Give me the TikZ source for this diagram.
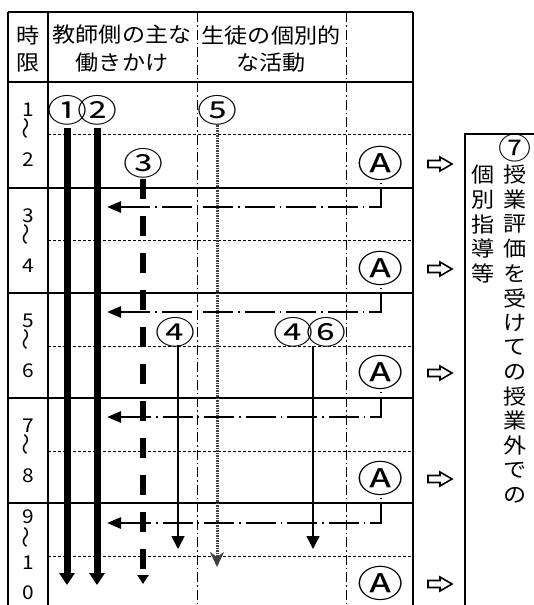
\documentclass[tikz,border=0pt]{standalone}
\usepackage{fontspec}
\newfontfamily\jp[FakeStretch=1.1]{Noto Sans CJK JP}
\newfontfamily\jpwide[FakeStretch=1.25]{Noto Sans CJK JP}
\usetikzlibrary{arrows.meta}
\begin{document}
\begin{tikzpicture}[x=1pt,y=-1pt,
  jptext/.style={font=\jp\fontsize{21}{21}\selectfont, inner sep=0pt},
  circnum/.style={font=\jpwide\fontsize{32}{32}\selectfont, inner sep=0pt},
  circseven/.style={font=\jp\fontsize{30}{30}\selectfont, inner sep=0pt},
  circA/.style={font=\jpwide\fontsize{37}{37}\selectfont, inner sep=0pt},
  digit/.style={font=\jp\fontsize{19}{19}\selectfont, inner sep=0pt},
  wave/.style={font=\jp\fontsize{20}{20}\selectfont, rotate=90, inner sep=0pt},
  grid/.style={line width=1.2pt},
  midline/.style={line width=0.9pt, dash pattern=on 3pt off 2pt},
  colline/.style={line width=1pt, dash pattern=on 10pt off 3pt on 1.5pt off 3pt},
  thickarrow/.style={line width=7pt, -{Triangle[length=12pt,width=15pt]}},
  dasharrow/.style={line width=6pt, dash pattern=on 20pt off 17pt, -{Triangle[length=9pt,width=11pt]}},
  dotarrow/.style={line width=3pt, draw=black!75, dash pattern=on 1.5pt off 1pt, -{Stealth[length=15pt,width=14pt,inset=5pt]}},
  thinarrow/.style={line width=1.5pt, -{Triangle[length=13pt,width=13pt]}},
  fbarrow/.style={line width=2.8pt, dash pattern=on 30pt off 5pt on 1.5pt off 5pt, dash phase=30.5pt, -{Triangle[length=14pt,width=11pt]}},
  hollow/.style={line width=1.6pt, line join=miter}
]
\useasboundingbox (0,0) rectangle (534,605);
% table grid
\foreach \y in {12,82,188,293,398,503} \draw[grid] (8,\y) -- (413,\y);
\foreach \x in {8,48,413} \draw[grid] (\x,12) -- (\x,605);
\foreach \x in {197,346} \draw[colline] (\x,12) -- (\x,605);
\foreach \y in {134,240,346,451,556} \draw[midline] (48,\y) -- (413,\y);
% right box
\draw[grid] (465,605) -- (465,134) -- (534,134);
% header
\node[jptext] (h1a) at (28,35) {時};
\node[jptext] (h1b) at (28,63) {限};
\node[jptext] (h2a) at (122,35) {教師側の主な};
\node[jptext] (h2b) at (122,63) {働きかけ};
\node[jptext] (h3a) at (271,35) {生徒の個別的};
\node[jptext] (h3b) at (271,63) {な活動};
% time labels
\foreach \s/\a/\b [count=\i] in {82/1/2,188/3/4,293/5/6,398/7/8} {
  \node[digit] (ta\i) at (28,\s+28) {\a};
  \node[wave]  (tw\i) at (28,\s+46) {～};
  \node[digit] (tb\i) at (28,\s+78) {\b};
}
\node[digit] (ta5) at (28,517) {9};
\node[wave]  (tw5) at (28,537) {～};
\node[digit] (tb5) at (28,563) {1};
\node[digit] (tc5) at (28,593) {0};
% circled labels
\node[circnum] (c1) at (67,110) {①};
\node[circnum] (c2) at (97,110) {②};
\node[circnum] (c5) at (217,110) {⑤};
\node[circnum] (c3) at (143,163) {③};
\node[circnum] (c4a) at (175,332) {④};
\node[circnum] (c4b) at (293,332) {④};
\node[circnum] (c6) at (326,332) {⑥};
% coordinates
\coordinate (s1) at (67,128);  \coordinate (e1) at (67,585);
\coordinate (s2) at (97,128);  \coordinate (e2) at (97,585);
\coordinate (s3) at (143,179); \coordinate (e3) at (143,584);
\coordinate (s5) at (217,125); \coordinate (e5) at (217,567);
\coordinate (s4a) at (178,345); \coordinate (e4a) at (178,549);
\coordinate (s4b) at (313,346); \coordinate (e4b) at (313,549);
% main arrows
\draw[thickarrow] (s1) -- (e1);
\draw[thickarrow] (s2) -- (e2);
\draw[dasharrow] (s3) -- (e3);
\draw[dotarrow] (s5) -- (e5);
\draw[thinarrow] (s4a) -- (e4a);
\draw[thinarrow] (s4b) -- (e4b);
% A marks and hollow arrows
\foreach \y [count=\i] in {163,268,372,478,583} {
  \node[circA] (A\i) at (381,\y) {Ⓐ};
  \coordinate (h\i) at (428,\y+1);
  \draw[hollow] (h\i) ++(0,-3.5) -- ++(12,0) -- ++(0,-3.5) -- ++(12,7) -- ++(-12,7) -- ++(0,-3.5) -- ++(-12,0) -- cycle;
}
% feedback arrows
\foreach \fy [count=\i] in {207,312,417,523} {
  \coordinate (f\i) at (107,\fy);
  \draw[fbarrow] ([yshift=-15pt]A\i.center) |- (f\i);
}
% right box text
\node[circseven] (r0) at (515,148) {⑦};
\foreach \c [count=\i] in {授,業,評,価,を,受,け,て,の,授,業,外,で,の}
  \node[jptext] (r\i) at (515,175+24.6*\i-24.6) {\c};
\foreach \c [count=\i] in {個,別,指,導,等}
  \node[jptext] (l\i) at (483,175+24.6*\i-24.6) {\c};
\end{tikzpicture}
\end{document}
